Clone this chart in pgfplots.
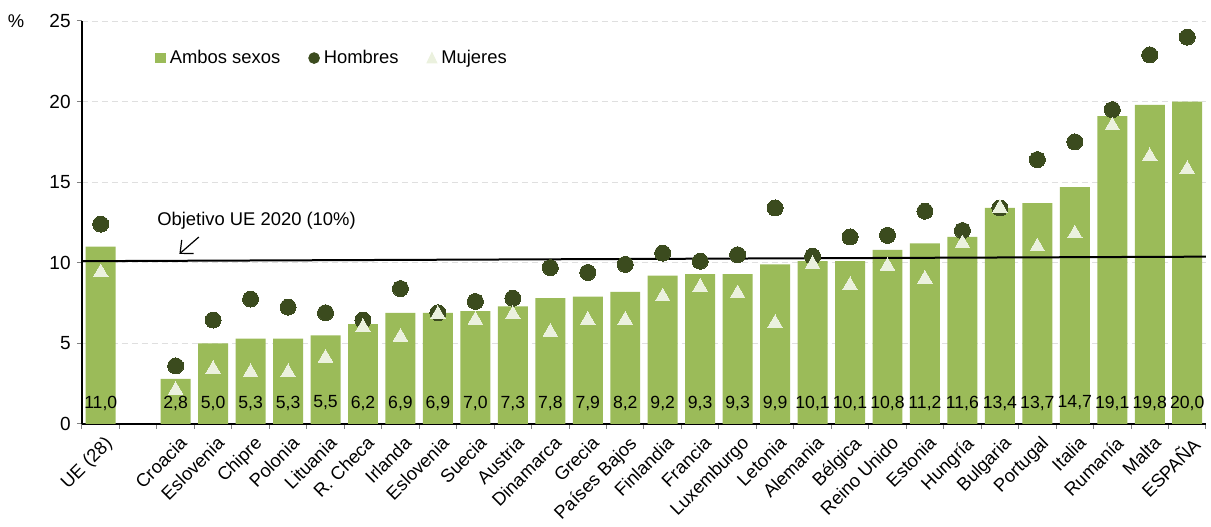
\documentclass[border=0pt]{standalone}
\usepackage{fontspec}
\setmainfont{Liberation Sans}
\usepackage{pgfplots}
\pgfplotsset{compat=1.18}
\usepackage{pgfplotstable}
\usetikzlibrary{arrows.meta}
\definecolor{barg}{HTML}{9BBB59}
\definecolor{darkg}{HTML}{3B4B1E}
\definecolor{lightg}{HTML}{EBF1DE}
\pgfplotstableread{
x bar H M
0 11.0 12.4 9.4
2 2.8 3.6 2.1
3 5.0 6.45 3.4
4 5.3 7.75 3.2
5 5.3 7.25 3.2
6 5.5 6.9 4.1
7 6.2 6.45 6.0
8 6.9 8.4 5.4
9 6.9 6.9 6.8
10 7.0 7.6 6.45
11 7.3 7.8 6.8
12 7.8 9.7 5.7
13 7.9 9.4 6.45
14 8.2 9.9 6.45
15 9.2 10.6 7.9
16 9.3 10.1 8.5
17 9.3 10.5 8.1
18 9.9 13.4 6.25
19 10.1 10.4 9.9
20 10.1 11.6 8.6
21 10.8 11.7 9.8
22 11.2 13.2 9.0
23 11.6 12.0 11.2
24 13.4 13.4 13.4
25 13.7 16.4 11.0
26 14.7 17.5 11.8
27 19.1 19.5 18.5
28 19.8 22.9 16.6
29 20.0 24.0 15.8
}\datatable
\begin{document}
\begin{tikzpicture}[font=\fontsize{9.2}{11}\selectfont]
\begin{axis}[
  scale only axis,
  width=562pt, height=201.5pt,
  xmin=-0.5, xmax=29.5,
  ymin=0, ymax=25,
  ytick={0,5,10,15,20,25},
  xtick={0,...,29},
  xticklabels={UE (28),,Croacia,Eslovenia,Chipre,Polonia,Lituania,R. Checa,Irlanda,Eslovenia,Suecia,Austria,Dinamarca,Grecia,Países Bajos,Finlandia,Francia,Luxemburgo,Letonia,Alemania,Bélgica,Reino Unido,Estonia,Hungría,Bulgaria,Portugal,Italia,Rumanía,Malta,ESPAÑA},
  minor xtick={-0.5,0.5,...,29.5},
  major x tick style={draw=none},
  minor x tick style={gray, line width=0.5pt},
  tick align=outside,
  major tick length=2.5pt,
  minor tick length=2.5pt,
  ytick style={gray, line width=0.5pt},
  axis lines*=left,
  axis line style={black, line width=0.6pt},
  x tick label style={rotate=45, anchor=north east, inner sep=1pt, yshift=-2pt},
  y tick label style={inner sep=1pt, xshift=-2pt, font=\fontsize{9.5}{12}\selectfont},
  /pgf/number format/assume math mode=true,
  ymajorgrids,
  major grid style={densely dashed, gray!25, line width=0.4pt},
  legend style={at={(0.065,0.908)}, anchor=west, draw=none, fill=none, legend columns=3,
    /tikz/every even column/.append style={column sep=12pt}, inner sep=0pt,
    font=\fontsize{9.2}{11}\selectfont},
  legend cell align=left,
  clip=false,
]
\addplot[ybar, bar width=0.8, fill=barg, draw=none,
  legend image code/.code={\fill[barg] (0pt,-2.6pt) rectangle (5.2pt,2.6pt);}]
  table[x=x, y=bar]{\datatable};
\addlegendentry{Ambos sexos}
\addplot[only marks, color=darkg, mark=*, mark size=4pt, mark options={fill=darkg, draw=darkg, line width=0pt},
  legend image code/.code={\fill[darkg] (2.6pt,0pt) circle (2.7pt);}]
  table[x=x, y=H]{\datatable};
\addlegendentry{Hombres}
\addplot[only marks, color=lightg, mark=triangle*, mark size=4.2pt, mark options={fill=lightg, draw=lightg, line width=0pt},
  legend image code/.code={\fill[lightg] (0pt,-2.4pt) -- (5pt,-2.4pt) -- (2.5pt,2.8pt) -- cycle;}]
  table[x=x, y=M]{\datatable};
\addlegendentry{Mujeres}
\addplot[draw=none, mark=none, forget plot, nodes near coords,
  point meta=explicit,
  nodes near coords style={anchor=center, font=\fontsize{8.8}{11}\selectfont, text=black,
    /pgf/number format/.cd, fixed, fixed zerofill, precision=1, use comma, assume math mode=true}]
  table[x=x, y expr=1.3, meta=bar]{\datatable};
\addplot[black, line width=1pt, forget plot] coordinates {(-0.5,10.1) (29.5,10.38)};
\draw[-{Straight Barb[length=5pt,width=9pt]}, black, line width=0.6pt] (axis cs:2.62,11.6) -- (axis cs:2.1,10.55);
\node[anchor=west, inner sep=0pt] at (axis cs:1.5,12.6) {Objetivo UE 2020 (10\%)};
\node[inner sep=0pt] at ([xshift=-33pt]rel axis cs:0,1) {\%};
\path ([xshift=-41pt, yshift=-47pt]rel axis cs:0,0) ([xshift=2.5pt, yshift=10.5pt]rel axis cs:1,1);
\end{axis}
\end{tikzpicture}
\end{document}
